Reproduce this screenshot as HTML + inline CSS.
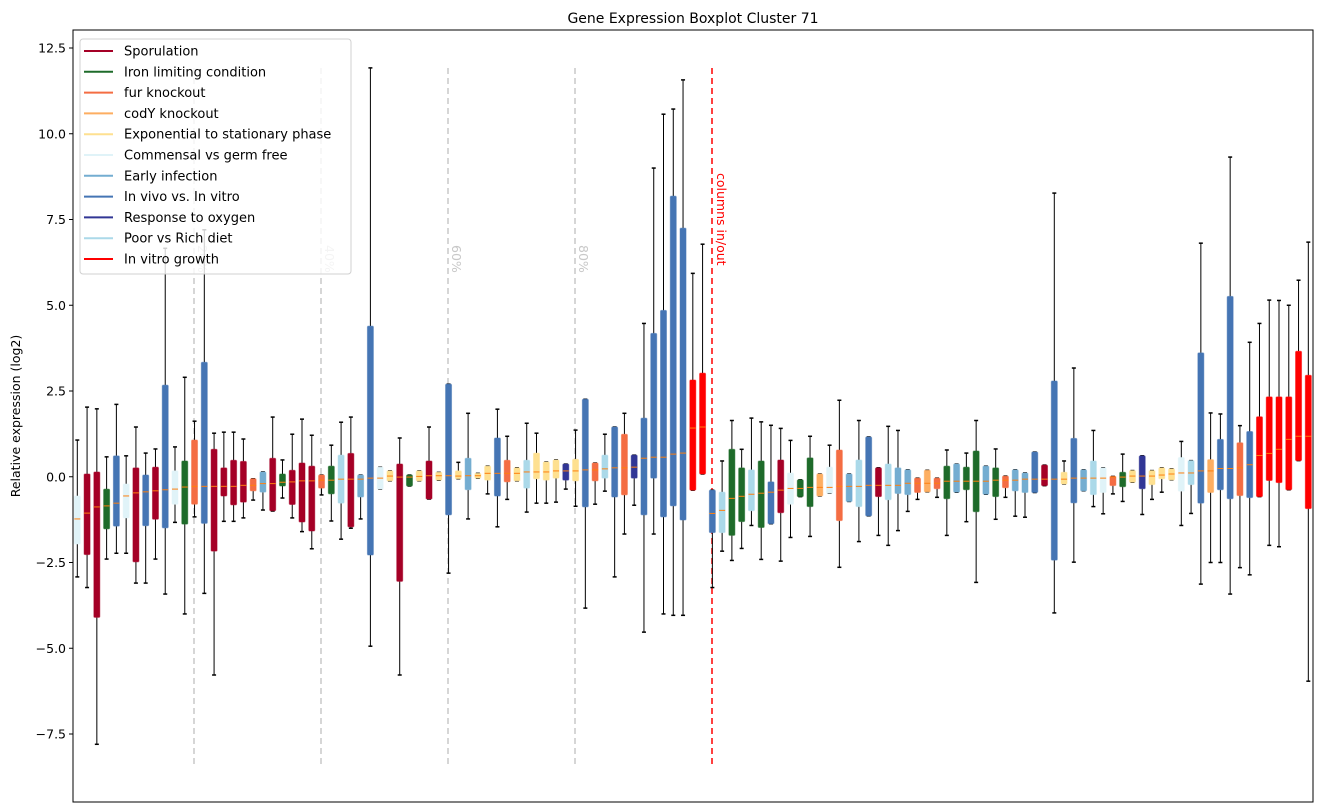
<!DOCTYPE html>
<html><head><meta charset="utf-8"><style>
body{margin:0;background:#fff;}
svg{display:block;font-family:"DejaVu Sans","Liberation Sans",sans-serif;}
</style></head><body>
<svg id="chart" width="1322" height="812" viewBox="0 0 1322 812">
<text x="693" y="23" text-anchor="middle" font-size="14">Gene Expression Boxplot Cluster 71</text>
<text transform="translate(20,416) rotate(-90)" text-anchor="middle" font-size="12.5">Relative expression (log2)</text>
<g id="yaxis"></g>
<g id="guides"></g>
<g id="boxes"></g>
<rect x="73" y="30" width="1240" height="772" fill="none" stroke="#000" stroke-width="1"/>
<g id="legend"></g>
</svg>
<script>
const groupNames=["Sporulation","Iron limiting condition","fur knockout","codY knockout","Exponential to stationary phase","Commensal vs germ free","Early infection","In vivo vs. In vitro","Response to oxygen","Poor vs Rich diet","In vitro growth"];
const groupCodes=["S","I","F","C","E","M","EI","V","R","P","G"];
const groupColors=["#a50026","#1e6b2a","#f46d43","#fdae61","#fee090","#e0f3f8","#74add1","#4575b4","#313695","#abd9e9","#ff0000"];
const yTicks=[12.5,10,7.5,5,2.5,0,-2.5,-5,-7.5];
const boxGroups=["M","S","S","I","V","M","S","V","S","V","M","I","F","V","S","S","S","S","F","EI","S","I","S","S","S","F","I","P","S","EI","V","M","E","S","I","E","S","E","V","E","EI","E","E","V","F","E","P","E","E","E","R","E","V","F","P","V","F","R","V","V","V","V","V","G","G",
"V","P","I","I","P","I","V","S","M","I","I","C","M","F","EI","P","V","S","P","EI","EI","F","C","F","I","EI","I","I","EI","I","F","EI","EI","V","S","V","E","V","EI","P","M","F","I","E","R","E","E","E","M","P","V","C","V","V","F","V","G","G","G","G","G","G"];
const whiskLow=[-2.92,-3.23,-7.8,-2.4,-2.23,-2.23,-3.1,-3.1,-2.4,-3.42,-1.33,-4.0,-1.17,-3.4,-5.78,-1.3,-1.3,-1.2,-0.68,-0.97,-1.0,-0.62,-1.2,-1.6,-2.1,-0.53,-1.29,-1.82,-1.5,-1.23,-4.94,-0.36,-0.12,-5.78,-0.27,-0.12,-0.65,-0.1,-2.81,-0.06,-1.23,-0.04,-0.5,-1.46,-0.66,-0.12,-1.03,-0.77,-0.77,-0.74,-0.36,-0.86,-3.83,-0.8,-0.42,-2.92,-1.67,-0.83,-4.53,-1.67,-4.0,-4.04,-4.04,-0.39,0.08,
-3.23,-2.17,-2.44,-2.09,-1.42,-2.41,-1.37,-2.46,-1.77,-0.58,-1.74,-0.56,-0.48,-2.64,-0.72,-1.89,-1.14,-1.71,-2.0,-1.57,-1.01,-0.66,-0.44,-0.6,-1.71,-0.45,-1.31,-3.08,-0.51,-1.24,-0.6,-1.15,-1.18,-0.46,-0.26,-3.97,-0.21,-2.49,-0.41,-0.87,-1.08,-0.5,-0.72,-0.16,-1.1,-0.66,-0.45,-0.09,-1.42,-1.07,-3.13,-2.5,-2.5,-3.42,-2.65,-2.86,-0.58,-2.0,-2.04,-0.38,0.47,-5.96];
const q1=[-1.96,-2.27,-4.1,-1.52,-1.44,-1.2,-2.48,-1.43,-1.24,-1.49,-0.8,-1.38,-0.8,-1.36,-2.17,-0.56,-0.82,-0.74,-0.41,-0.45,-0.99,-0.27,-0.81,-1.32,-1.58,-0.33,-0.5,-0.77,-1.46,-0.59,-2.28,-0.36,-0.12,-3.05,-0.27,-0.12,-0.65,-0.1,-1.11,-0.06,-0.38,-0.04,-0.1,-0.56,-0.15,-0.12,-0.33,-0.06,-0.1,-0.04,-0.1,-0.12,-0.88,-0.12,-0.04,-0.59,-0.53,-0.04,-1.11,-0.04,-1.17,-0.85,-1.26,-0.39,0.08,
-1.63,-1.63,-1.71,-1.31,-0.99,-1.48,-1.37,-1.05,-0.8,-0.58,-0.87,-0.56,-0.48,-1.28,-0.72,-0.87,-1.14,-0.58,-0.67,-0.49,-0.52,-0.46,-0.44,-0.35,-0.64,-0.45,-0.38,-1.02,-0.51,-0.58,-0.32,-0.41,-0.46,-0.46,-0.26,-2.43,-0.21,-0.76,-0.41,-0.52,-0.46,-0.26,-0.29,-0.16,-0.35,-0.23,-0.06,-0.09,-0.42,-0.23,-0.77,-0.46,-0.38,-0.64,-0.55,-0.61,-0.58,-0.11,-0.17,-0.38,0.47,-0.93];
const medians=[-1.23,-1.06,-0.88,-0.85,-0.77,-0.56,-0.47,-0.44,-0.41,-0.38,-0.36,-0.3,-0.28,-0.28,-0.28,-0.28,-0.28,-0.25,-0.25,-0.2,-0.2,-0.16,-0.15,-0.12,-0.12,-0.1,-0.1,-0.07,-0.07,-0.07,-0.04,-0.04,0.02,-0.01,-0.01,0.01,0.03,0.03,0.03,0.02,0.03,0.03,0.1,0.1,0.1,0.1,0.14,0.14,0.14,0.17,0.17,0.17,0.2,0.2,0.23,0.26,0.26,0.28,0.54,0.57,0.57,0.66,0.69,1.42,1.45,
-1.07,-0.98,-0.63,-0.57,-0.51,-0.48,-0.45,-0.39,-0.34,-0.34,-0.31,-0.31,-0.31,-0.28,-0.28,-0.28,-0.25,-0.25,-0.25,-0.25,-0.19,-0.19,-0.19,-0.19,-0.13,-0.13,-0.13,-0.13,-0.13,-0.1,-0.1,-0.1,-0.07,-0.07,-0.07,-0.07,-0.07,-0.04,-0.04,-0.04,-0.04,-0.01,-0.01,0.02,0.02,0.02,0.05,0.08,0.11,0.11,0.17,0.17,0.24,0.24,0.26,0.35,0.62,0.68,0.8,1.09,1.18,1.18];
const q3=[-0.56,0.08,0.14,-0.36,0.61,-0.21,0.26,0.05,0.28,2.67,0.17,0.46,1.07,3.34,0.8,0.26,0.48,0.45,-0.06,0.14,0.54,0.08,0.19,0.4,0.31,0.05,0.31,0.63,0.68,0.05,4.39,0.28,0.17,0.37,0.05,0.17,0.46,0.13,2.7,0.17,0.54,0.1,0.31,1.13,0.48,0.26,0.48,0.69,0.43,0.49,0.37,0.51,2.26,0.4,0.63,1.45,1.24,0.63,1.71,4.18,4.85,8.18,7.25,2.82,3.02,
-0.39,-0.45,0.8,0.26,0.2,0.46,-0.15,0.49,0.11,-0.09,0.55,0.08,0.28,0.78,0.08,0.49,1.16,0.26,0.37,0.26,0.2,-0.04,0.19,-0.04,0.31,0.37,0.28,0.75,0.31,0.26,0.02,0.2,0.11,0.72,0.34,2.79,0.13,1.12,0.2,0.46,0.26,0.01,0.13,0.18,0.61,0.18,0.26,0.23,0.56,0.47,3.61,0.5,1.09,5.26,0.99,1.32,1.75,2.33,2.33,2.33,3.66,2.96];
const whiskHigh=[1.07,2.03,1.98,0.58,2.11,0.61,1.45,0.69,0.81,6.66,0.87,2.9,1.62,7.2,1.27,1.3,1.3,1.1,-0.06,0.14,1.74,0.49,1.24,1.68,1.21,0.05,0.92,1.59,1.74,0.05,11.92,0.28,0.17,1.13,0.05,0.17,1.45,0.13,2.7,0.42,1.85,0.1,0.31,1.97,1.18,0.26,1.56,1.27,0.43,0.49,0.37,1.36,2.26,0.4,1.24,1.45,1.85,0.63,4.47,9.0,10.57,10.72,11.57,5.93,6.78,
-0.39,0.46,1.64,0.8,1.71,1.6,1.5,1.41,1.06,-0.09,1.18,0.08,0.92,2.23,0.08,1.64,1.16,0.26,1.47,1.35,0.2,-0.04,0.19,-0.04,0.78,0.37,0.69,1.64,0.31,0.81,0.02,0.2,0.11,0.72,0.34,8.27,0.46,3.17,0.2,1.35,0.26,0.01,0.66,0.18,0.61,0.18,0.26,0.23,1.03,0.47,6.81,1.86,1.83,9.32,1.49,3.92,4.47,5.15,5.14,5.0,5.73,6.84];
const guidePositions=[20,40,60,80];
const guideLabels=["20%","40%","60%","80%"];

const NS="http://www.w3.org/2000/svg";
function mk(tag,attrs,parent){const e=document.createElementNS(NS,tag);for(const k in attrs)e.setAttribute(k,attrs[k]);parent.appendChild(e);return e;}
const yScale=v=>476.75-34.3*v;
const xScale=i=>77.3+9.77*i;
const pctX=p=>67+p*6.35;

const yaxis=document.getElementById('yaxis');
yTicks.forEach(t=>{
  const y=yScale(t);
  const tk=mk('line',{x1:69,x2:73,y1:y,y2:y,stroke:'#000'},yaxis);
  
  
  const lb=mk('text',{x:66,y:y+4.5,'text-anchor':'end','font-size':12.5},yaxis);
  lb.textContent=(t<0?'\u2212':'')+Math.abs(t).toFixed(1);
  
  
});

const guides=document.getElementById('guides');
guidePositions.forEach((p,k)=>{
  const x=pctX(p);
  const ln=mk('line',{x1:x,x2:x,y1:68,y2:767,stroke:'#c8c8c8','stroke-width':1.5,'stroke-dasharray':'6,4'},guides);
  
  
  const tx=mk('text',{transform:`translate(${x+4},245) rotate(90)`,'font-size':12.5,fill:'#c8c8c8'},guides);
  tx.textContent=guideLabels[k];
  
  
});
const rl=mk('line',{x1:712,x2:712,y1:68,y2:767,stroke:'#ff0000','stroke-width':1.5,'stroke-dasharray':'6,4'},guides);


const rt=mk('text',{transform:'translate(717,173) rotate(90)','font-size':12.5,fill:'#ff0000'},guides);
rt.textContent='columns in/out';



const boxes=document.getElementById('boxes');
boxGroups.forEach((g,i)=>{
  const x=xScale(i);
  const col=groupColors[groupCodes.indexOf(g)];
  const gg=mk('g',{},boxes);
  
  
  const yl=yScale(whiskLow[i]),y1=yScale(q1[i]),ym=yScale(medians[i]),y3=yScale(q3[i]),yh=yScale(whiskHigh[i]);
  mk('line',{x1:x,x2:x,y1:y1,y2:yl,stroke:'#000','stroke-width':1},gg);
  mk('line',{x1:x,x2:x,y1:y3,y2:yh,stroke:'#000','stroke-width':1},gg);
  mk('line',{x1:x-2,x2:x+2,y1:yl,y2:yl,stroke:'#000','stroke-width':1.5},gg);
  mk('line',{x1:x-2,x2:x+2,y1:yh,y2:yh,stroke:'#000','stroke-width':1.5},gg);
  mk('rect',{x:x-3,y:y3,width:6,height:Math.max(1,y1-y3),fill:col,stroke:col,'stroke-opacity':0.5,'stroke-width':1,rx:1},gg);
  mk('line',{x1:x-3,x2:x+3,y1:ym,y2:ym,stroke:'#ff7f0e','stroke-width':1},gg);
});

const legend=document.getElementById('legend');
mk('rect',{x:80,y:39,width:271,height:235,rx:3,fill:'rgba(255,255,255,0.8)',stroke:'#d0d0d0'},legend);
groupNames.forEach((n,k)=>{
  const y=51+k*20.8;
  const e=mk('g',{},legend);
  
  
  mk('line',{x1:84,x2:113,y1:y,y2:y,stroke:groupColors[k],'stroke-width':2},e);
  const t=mk('text',{x:124,y:y+4.5,'font-size':13},e);
  t.textContent=n;
});
</script>
</body></html>
